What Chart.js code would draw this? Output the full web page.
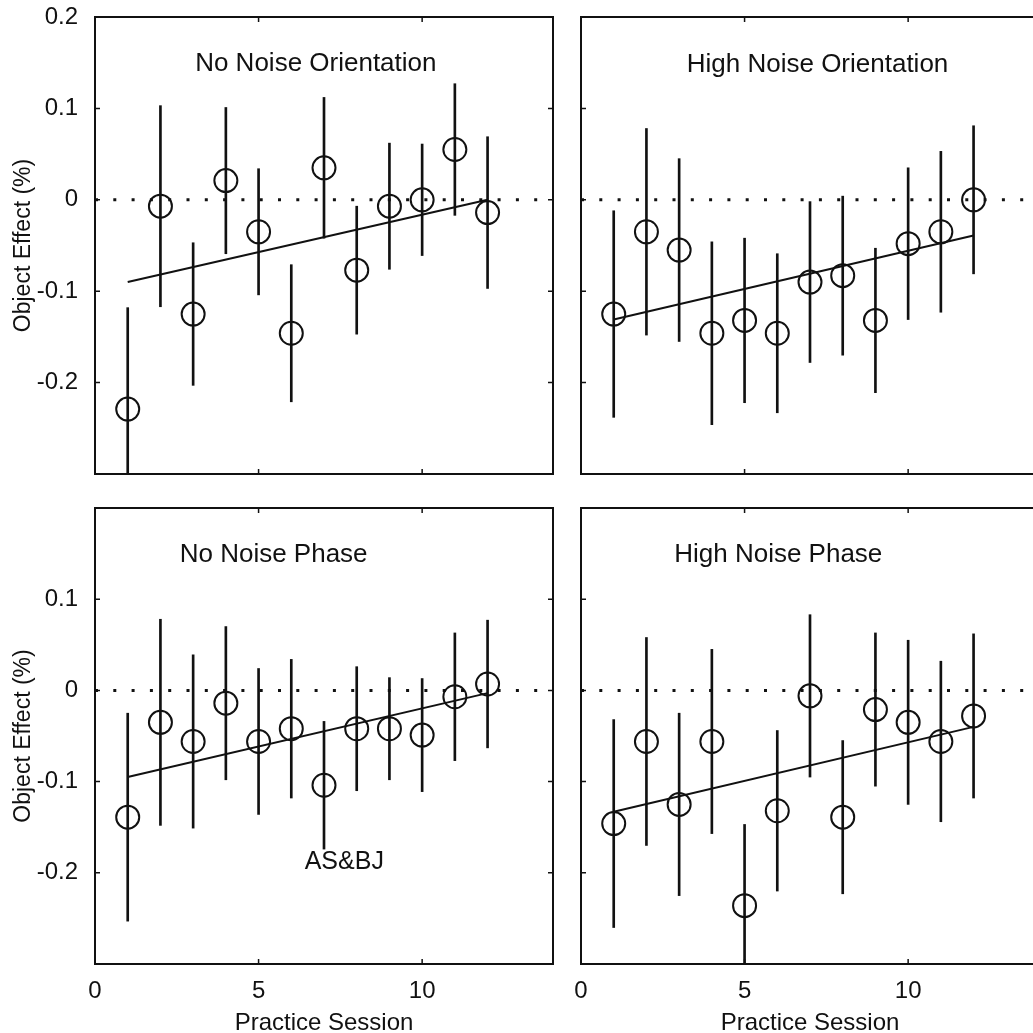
<!DOCTYPE html>
<html>
<head>
<meta charset="utf-8">
<script src="https://cdn.jsdelivr.net/npm/chart.js@4.4.1/dist/chart.umd.min.js"></script>
<style>
  html, body { margin: 0; padding: 0; background: #fff; overflow: hidden; }
  #wrap { position: relative; width: 1033px; height: 1033px; overflow: hidden; background: #fff; }
  canvas { position: absolute; left: -40px; top: -40px; }
</style>
</head>
<body>
<div id="wrap">
  <canvas id="nno" width="1140" height="1120"></canvas>
  <canvas id="hno" width="1140" height="1120"></canvas>
  <canvas id="nnp" width="1140" height="1120"></canvas>
  <canvas id="hnp" width="1140" height="1120"></canvas>
</div>
<script>
const sessions = [1, 2, 3, 4, 5, 6, 7, 8, 9, 10, 11, 12]
const fitSessions = [1, 12]

// No noise, orientation
const nnoMean = [-0.229, -0.007, -0.125, 0.021, -0.035, -0.146, 0.035, -0.077, -0.007, 0.000, 0.055, -0.014]
const nnoErr = [0.111, 0.110, 0.078, 0.080, 0.069, 0.075, 0.077, 0.070, 0.069, 0.061, 0.072, 0.083]
const nnoFit = [-0.090, 0.000]

// High noise, orientation
const hnoMean = [-0.125, -0.035, -0.055, -0.146, -0.132, -0.146, -0.090, -0.083, -0.132, -0.048, -0.035, 0.000]
const hnoErr = [0.113, 0.113, 0.100, 0.100, 0.090, 0.087, 0.088, 0.087, 0.079, 0.083, 0.088, 0.081]
const hnoFit = [-0.131, -0.039]

// No noise, phase
const nnpMean = [-0.139, -0.035, -0.056, -0.014, -0.056, -0.042, -0.104, -0.042, -0.042, -0.049, -0.007, 0.007]
const nnpErr = [0.114, 0.113, 0.095, 0.084, 0.080, 0.076, 0.070, 0.068, 0.056, 0.062, 0.070, 0.070]
const nnpFit = [-0.095, -0.003]

// High noise, phase
const hnpMean = [-0.146, -0.056, -0.125, -0.056, -0.236, -0.132, -0.006, -0.139, -0.021, -0.035, -0.056, -0.028]
const hnpErr = [0.114, 0.114, 0.100, 0.101, 0.089, 0.088, 0.089, 0.084, 0.084, 0.090, 0.088, 0.090]
const hnpFit = [-0.133, -0.040]

const xRange = [0, 14]
const yRange = [-0.3, 0.2]
const xTicks = [0, 5, 10]
const xTickLabels = ['0', '5', '10']
const yTicks = [-0.2, -0.1, 0, 0.1, 0.2]
const yTickLabelsTop = ['-0.2', '-0.1', '0', '0.1', '0.2']
const yTickLabelsBottom = ['-0.2', '-0.1', '0', '0.1', '']

const family = '"Liberation Sans", Arial, Helvetica, sans-serif'
const ink = '#111'
// canvases sit 40px up and left of the page so edge labels never squeeze the plot
const OFF = 40

const panels = [
    { id: 'nno', title: 'No Noise Orientation', titleAt: [6.75, 0.149],
      mean: nnoMean, err: nnoErr, fit: nnoFit,
      area: { left: 95, top: 17, right: 553, bottom: 474 },
      showX: false, showY: true, yLabels: yTickLabelsTop },
    { id: 'hno', title: 'High Noise Orientation', titleAt: [7.23, 0.148],
      mean: hnoMean, err: hnoErr, fit: hnoFit,
      area: { left: 581, top: 17, right: 1039, bottom: 474 },
      showX: false, showY: false, yLabels: yTickLabelsTop },
    { id: 'nnp', title: 'No Noise Phase', titleAt: [5.46, 0.149], note: ['AS&BJ', 7.62, -0.188],
      mean: nnpMean, err: nnpErr, fit: nnpFit,
      area: { left: 95, top: 508, right: 553, bottom: 964 },
      showX: true, showY: true, yLabels: yTickLabelsBottom },
    { id: 'hnp', title: 'High Noise Phase', titleAt: [6.03, 0.149],
      mean: hnpMean, err: hnpErr, fit: hnpFit,
      area: { left: 581, top: 508, right: 1039, bottom: 964 },
      showX: true, showY: false, yLabels: yTickLabelsBottom },
]

const labelFor = (v, values, labels) => {
    const i = values.findIndex(t => Math.abs(t - v) < 1e-9)
    return i < 0 ? '' : labels[i]
}

// frame, inward tick marks and the in-plot captions
const panelDecor = (p) => ({
    id: 'panelDecor',
    afterDraw(chart) {
        const { ctx, chartArea: a, scales: { x, y } } = chart
        ctx.save()
        ctx.strokeStyle = ink
        ctx.lineWidth = 2
        ctx.strokeRect(a.left, a.top, a.right - a.left, a.bottom - a.top)

        ctx.lineWidth = 1.5
        ctx.beginPath()
        xTicks.forEach(v => {
            const px = x.getPixelForValue(v)
            ctx.moveTo(px, a.bottom); ctx.lineTo(px, a.bottom - 5)
            ctx.moveTo(px, a.top); ctx.lineTo(px, a.top + 5)
        })
        yTicks.forEach(v => {
            const py = y.getPixelForValue(v)
            ctx.moveTo(a.left, py); ctx.lineTo(a.left + 5, py)
            ctx.moveTo(a.right, py); ctx.lineTo(a.right - 5, py)
        })
        ctx.stroke()

        ctx.fillStyle = ink
        ctx.textAlign = 'center'
        ctx.textBaseline = 'middle'
        ctx.font = `26px ${family}`
        ctx.fillText(p.title, x.getPixelForValue(p.titleAt[0]), y.getPixelForValue(p.titleAt[1]))
        if (p.note) {
            ctx.font = `25px ${family}`
            ctx.fillText(p.note[0], x.getPixelForValue(p.note[1]), y.getPixelForValue(p.note[2]))
        }
        ctx.restore()
    }
})

const makePanel = (p) => {
    const el = document.getElementById(p.id)
    const yW = p.showY ? p.area.left : 0
    const xH = p.showX ? 80 : 0

    const datasets = [
        {
            type: 'bar',
            data: sessions.map((s, i) => ({ x: s, y: [p.mean[i] - p.err[i], p.mean[i] + p.err[i]] })),
            backgroundColor: ink,
            borderWidth: 0,
            barThickness: 2,
        },
        {
            type: 'scatter',
            data: sessions.map((s, i) => ({ x: s, y: p.mean[i] })),
            pointRadius: 11.5,
            pointBorderWidth: 2,
            pointBorderColor: ink,
            pointBackgroundColor: 'rgba(0,0,0,0)',
        },
        {
            type: 'line',
            data: fitSessions.map((s, i) => ({ x: s, y: p.fit[i] })),
            borderColor: ink,
            borderWidth: 2,
            pointRadius: 0,
        },
        {
            type: 'line',
            data: xRange.map(s => ({ x: s, y: 0 })),
            borderColor: ink,
            borderWidth: 3,
            borderDash: [3, 15.3],
            pointRadius: 0,
        },
    ]

    new Chart(el, {
        type: 'scatter',
        data: { datasets },
        options: {
            responsive: false,
            animation: false,
            events: [],
            layout: {
                padding: {
                    left: p.area.left + OFF - yW,
                    top: p.area.top + OFF,
                    right: el.width - p.area.right - OFF,
                    bottom: el.height - p.area.bottom - OFF - xH,
                }
            },
            plugins: { legend: { display: false }, tooltip: { enabled: false } },
            scales: {
                x: {
                    type: 'linear',
                    min: xRange[0],
                    max: xRange[1],
                    offset: false,
                    display: p.showX,
                    grid: { display: false },
                    border: { display: false },
                    ticks: {
                        stepSize: 5,
                        includeBounds: false,
                        autoSkip: false,
                        maxRotation: 0,
                        padding: 5,
                        color: ink,
                        font: { family, size: 24 },
                        callback: v => labelFor(v, xTicks, xTickLabels),
                    },
                    title: {
                        display: true,
                        text: 'Practice Session',
                        color: ink,
                        font: { family, size: 24 },
                        padding: { top: 0, bottom: 6 },
                    },
                    afterFit: s => { s.height = xH },
                },
                y: {
                    type: 'linear',
                    min: yRange[0],
                    max: yRange[1],
                    display: p.showY,
                    grid: { display: false },
                    border: { display: false },
                    ticks: {
                        stepSize: 0.1,
                        autoSkip: false,
                        padding: 9,
                        color: ink,
                        font: { family, size: 24 },
                        callback: v => labelFor(v, yTicks, p.yLabels),
                    },
                    title: {
                        display: true,
                        text: 'Object Effect (%)',
                        color: ink,
                        font: { family, size: 23 },
                        padding: { top: 10, bottom: 0 },
                    },
                    afterFit: s => { s.width = yW },
                },
            },
        },
        plugins: [panelDecor(p)],
    })
}

panels.forEach(makePanel)
</script>
</body>
</html>
